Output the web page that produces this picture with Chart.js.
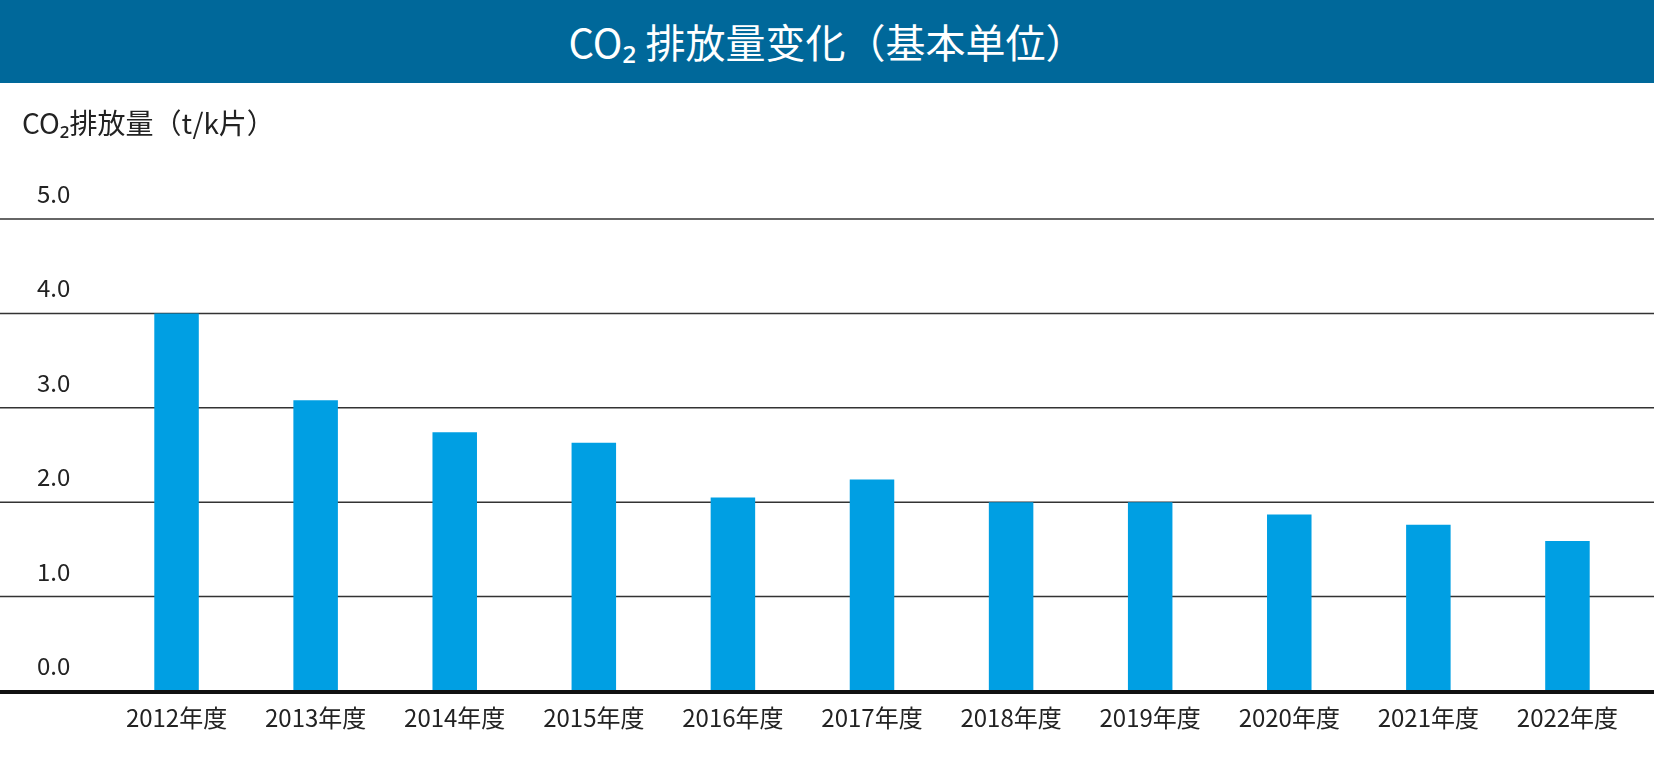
<!DOCTYPE html>
<html><head><meta charset="utf-8">
<script src="https://cdn.jsdelivr.net/npm/chart.js@4"></script>
<style>
html,body{margin:0;padding:0;background:#fff;width:1654px;height:779px;overflow:hidden;font-family:"Noto Sans CJK JP","Noto Sans",sans-serif}
#t{position:absolute;left:0;top:0;width:1654px;height:83px;background:#00689A;color:#fff;font-size:40px;line-height:83px;text-align:center}
#c{position:absolute;left:0;top:0}
</style></head><body>
<canvas id="c" width="1654" height="779"></canvas>
<div id="t">CO₂ 排放量变化（基本单位）</div>
<script>
const categories=["2012年度","2013年度","2014年度","2015年度","2016年度","2017年度","2018年度","2019年度","2020年度","2021年度","2022年度"];
const values=[4.0,3.08,2.74,2.63,2.05,2.24,2.0,2.0,1.87,1.76,1.59];
const yTicks=[0,1,2,3,4,5];
const yTitle="CO₂排放量（t/k片）";
const F='"Noto Sans CJK JP","Noto Sans",sans-serif';
const deco={id:'deco',
 beforeDatasetsDraw(ch){const c=ch.ctx,y=ch.scales.y;c.save();
  yTicks.forEach(v=>{const p=y.getPixelForValue(v);if(v===0)return;c.strokeStyle='#333';c.lineWidth=1.5;c.beginPath();c.moveTo(0,p);c.lineTo(1654,p);c.stroke();});
  c.restore();},
 afterDraw(ch){const c=ch.ctx,y=ch.scales.y,x=ch.scales.x;c.save();
  const p0=y.getPixelForValue(0);c.fillStyle='#111';c.fillRect(0,p0-1,1654,4);
  c.fillStyle='#222';c.font='24px '+F;c.textAlign='left';c.textBaseline='alphabetic';
  yTicks.forEach(v=>{c.fillText(v.toFixed(1),37,y.getPixelForValue(v)-16);});
  c.font='28px '+F;c.fillText(yTitle,22,134);
  c.font='24px '+F;c.textAlign='center';c.textBaseline='middle';
  categories.forEach((l,i)=>c.fillText(l,x.getPixelForValue(i),718));
  c.restore();}};
new Chart(document.getElementById('c'),{type:'bar',
 data:{labels:categories,datasets:[{data:values,backgroundColor:'#009FE3',barPercentage:0.32,categoryPercentage:1}]},
 options:{responsive:false,animation:false,events:[],
  layout:{padding:{left:107,right:17,top:219,bottom:88}},
  plugins:{legend:{display:false},tooltip:{enabled:false}},
  scales:{x:{display:false},y:{display:false,min:0,max:5}}},
 plugins:[deco]});
</script></body></html>
